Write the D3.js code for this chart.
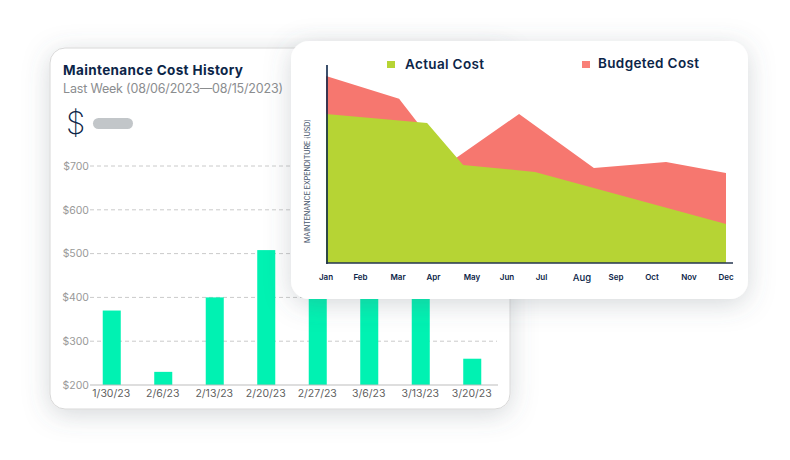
<!DOCTYPE html>
<html><head><meta charset="utf-8">
<script src="https://cdn.jsdelivr.net/npm/d3@7"></script>
<style>
html,body{margin:0;padding:0;background:#fff}
svg{display:block}
text{font-family:Inter,"Noto Sans",sans-serif}
</style></head><body>
<svg id="c" width="790" height="460"></svg>
<script>
// ---- data ----
const weekLabels = ["1/30/23","2/6/23","2/13/23","2/20/23","2/27/23","3/6/23","3/13/23","3/20/23"];
const weekCosts = [370,230,400,508,440,420,430,260];
const dollarTicks = [200,300,400,500,600,700];
const monthLabels = ["Jan","Feb","Mar","Apr","May","Jun","Jul","Aug","Sep","Oct","Nov","Dec"];
const budgetMonth = [0,2.03,3.4,5.35,7.35,9.38,11];
const budgetValue = [189,166,101,150.5,96,102,91];
const actualMonth = [0,2.82,3.77,5.81,11];
const actualValue = [150.5,141.4,99,92,39.4];
const legendNames = ["Actual Cost","Budgeted Cost"];

// ---- layout ----
const svg = d3.select("#c");
const navy = "#0c2548";
const defs = svg.append("defs");
const f = defs.append("filter").attr("id","sh").attr("x","-20%").attr("y","-20%").attr("width","140%").attr("height","140%");
f.append("feDropShadow").attr("dx",0).attr("dy",5).attr("stdDeviation",13).attr("flood-color","#56606c").attr("flood-opacity",.25);

// left card
svg.append("rect").attr("x",50).attr("y",48).attr("width",460).attr("height",361).attr("rx",15)
  .attr("fill","#fff").attr("stroke","#d8d8d8").attr("stroke-width",1).attr("filter","url(#sh)");
svg.append("text").attr("x",63).attr("y",75).attr("font-size",13.5).attr("font-weight",700).attr("fill",navy)
  .attr("textLength",180).text("Maintenance Cost History");
svg.append("text").attr("x",63).attr("y",93).attr("font-size",12.5).attr("fill","#8b8d8f")
  .attr("textLength",220).text("Last Week (08/06/2023\u201408/15/2023)");
svg.append("text").attr("x",66).attr("y",134).attr("font-size",31).attr("font-weight",200).attr("fill",navy).text("$");
svg.append("rect").attr("x",93).attr("y",118).attr("width",40).attr("height",11).attr("rx",5.5).attr("fill","#c2c6c9");

const xB = d3.scaleBand().domain(weekLabels).range([86,498]).paddingInner(.65).paddingOuter(.325);
const yB = d3.scaleLinear().domain([200,700]).range([385,166]);

const gy = svg.append("g").attr("transform","translate(90,0)")
  .call(d3.axisLeft(yB).tickValues(dollarTicks).tickFormat(d=>"$"+d).tickSize(0).tickPadding(1));
gy.select(".domain").remove();
gy.selectAll("text").attr("font-size",10.5).attr("fill","#999").style("font-family","Inter,sans-serif");
svg.append("g").selectAll("line").data(dollarTicks.filter(d=>d>200)).join("line")
  .attr("x1",90).attr("x2",497).attr("y1",d=>yB(d)).attr("y2",d=>yB(d))
  .attr("stroke","#cacaca").attr("stroke-dasharray","4 3");

svg.append("g").selectAll("rect").data(weekCosts).join("rect")
  .attr("x",(d,i)=>xB(weekLabels[i])).attr("width",xB.bandwidth())
  .attr("y",d=>yB(d)).attr("height",d=>yB(200)-yB(d)).attr("fill","#00f2b2");

const gx = svg.append("g").attr("transform","translate(-0.5,385)")
  .call(d3.axisBottom(xB).tickSize(0).tickPadding(5));
gx.select(".domain").remove();
gx.selectAll("text").attr("font-size",10.5).attr("fill","#5f5f5f").style("font-family","Inter,sans-serif");
svg.append("line").attr("x1",90).attr("x2",498).attr("y1",385).attr("y2",385).attr("stroke","#bdbdbd");

// right card
svg.append("rect").attr("x",291).attr("y",41).attr("width",457).attr("height",258).attr("rx",18)
  .attr("fill","#fff").attr("filter","url(#sh)");

const monthPx = [326,360.5,398,433.5,472,507,541.5,582,616,652,689,726];
const xM = d3.scaleLinear().domain(monthLabels.map((d,i)=>i)).range(monthPx);
const yM = d3.scaleLinear().domain([0,200]).range([263,65]);
const area = d3.area().x(d=>xM(d[0])).y0(yM(0)).y1(d=>yM(d[1]));
svg.append("path").attr("d",area(d3.zip(budgetMonth,budgetValue))).attr("fill","#f6776f");
svg.append("path").attr("d",area(d3.zip(actualMonth,actualValue))).attr("fill","#b6d434");

svg.append("line").attr("x1",327).attr("x2",327).attr("y1",65).attr("y2",264).attr("stroke",navy).attr("stroke-width",1.6);
svg.append("line").attr("x1",326).attr("x2",733).attr("y1",263).attr("y2",263).attr("stroke","#24364f").attr("stroke-width",1.6);

const gm = svg.append("g").attr("transform","translate(-0.5,263)")
  .call(d3.axisBottom(xM).tickValues(monthLabels.map((d,i)=>i)).tickFormat(i=>monthLabels[i]).tickSize(0));
gm.select(".domain").remove();
gm.selectAll("text").attr("font-size",i=>i===7?9.5:8).attr("font-weight",i=>i===7?500:600).attr("fill",navy)
  .attr("y",i=>i===7?11:11.5).style("font-family","Inter,sans-serif");

svg.append("text").attr("transform","translate(310,243) rotate(-90)").attr("font-size",7.2).attr("fill","#44536a")
  .attr("textLength",124).text("MAINTENANCE EXPENDITURE (USD)");

const legendX = [387,582], legendColor = ["#b6d434","#f98078"], legendLen = [79,101];
legendNames.forEach((n,i)=>{
  svg.append("rect").attr("x",legendX[i]).attr("y",61).attr("width",8).attr("height",7).attr("fill",legendColor[i]);
  svg.append("text").attr("x",legendX[i]+(i?16:18)).attr("y",i?68:69).attr("font-size",13.5).attr("font-weight",600).attr("fill",navy)
    .attr("textLength",legendLen[i]).text(n);
});
</script></body></html>
